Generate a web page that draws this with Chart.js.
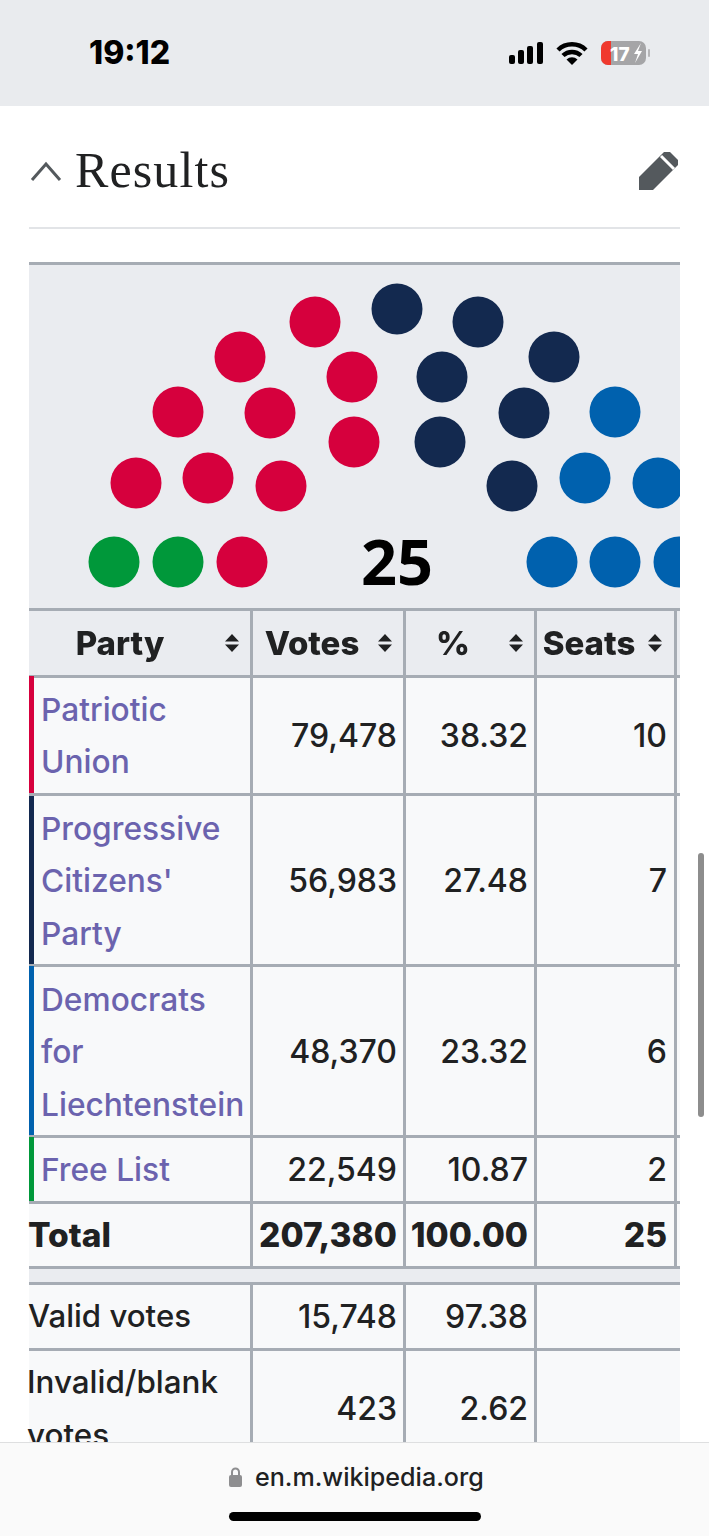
<!DOCTYPE html>
<html>
<head>
<meta charset="utf-8">
<title>Results</title>
<script src="https://cdn.jsdelivr.net/npm/chart.js@4"></script>
<style>
  html, body { margin: 0; padding: 0; background: #fff; }
  body { position: relative; width: 709px; height: 1536px; overflow: hidden; font-family: Inter, sans-serif; color: #202122; }
  .t { position: absolute; white-space: nowrap; transform: translateY(-50%); line-height: 1; }
  .line { position: absolute; background: #a6acb4; }
  .box { position: absolute; }
  #seatWrap { position: absolute; left: 29px; top: 264px; width: 651px; height: 345px; background: #eaecf0; }
  #total { position: absolute; left: 0; top: 296px; width: 736px; text-align: center; transform: translateY(-50%); font: bold 63px "Open Sans", sans-serif; color: #000; line-height: 1; }
  #bottomBar { position: absolute; left: 0; top: 1442px; width: 709px; height: 94px; background: #fafafa; border-top: 1px solid #dedfe0; box-sizing: border-box; z-index: 5; }
</style>
</head>
<body>
<div class="box" style="left:0;top:0;width:709px;height:106px;background:#e9ebee"></div>

<div id="seatWrap">
  <canvas id="seatChart" width="651" height="345"></canvas>
  <div id="total"></div>
</div>
<div id="page"></div>

<svg class="box" style="left:0;top:0;z-index:6" width="709" height="230" viewBox="0 0 709 230">
  <!-- signal -->
  <rect x="509" y="55" width="6" height="9" rx="2" fill="#000"/>
  <rect x="518" y="50" width="6" height="14" rx="2" fill="#000"/>
  <rect x="527" y="46" width="6" height="18" rx="2" fill="#000"/>
  <rect x="537" y="42" width="6" height="22" rx="2" fill="#000"/>
  <!-- wifi -->
  <path d="M558 50 A20 20 0 0 1 586 50" fill="none" stroke="#000" stroke-width="4.5"/>
  <path d="M563 55.5 A13 13 0 0 1 581 55.5" fill="none" stroke="#000" stroke-width="4.5"/>
  <path d="M566.5 59.5 L572 65 L577.5 59.5 A8 8 0 0 0 566.5 59.5Z" fill="#000"/>
  <!-- battery -->
  <rect x="601" y="41" width="45" height="24" rx="7" fill="#a5a5a7"/>
  <path d="M608 41 H611 V65 H608 A7 7 0 0 1 601 58 V48 A7 7 0 0 1 608 41Z" fill="#f0392e"/>
  <rect x="648" y="49" width="2" height="8" rx="1" fill="#b5b5b7"/>
  <path d="M641 43 L634 54 H638 L635 63 L642 51 H638Z" fill="#fff"/>
  <!-- chevron -->
  <path d="M32 180 L46 164 L60 180" fill="none" stroke="#54595d" stroke-width="3"/>
  <!-- pencil -->
  <path d="M639 190 V177 L664 152 L670 152 L678 160 V165 L653 190Z" fill="#54595d"/>
  <path d="M661 156 L674 169" stroke="#fff" stroke-width="3"/>
  <rect x="29" y="227" width="651" height="2" fill="#e2e4e7"/>
</svg>

<div id="bottomBar"></div>
<svg class="box" style="left:0;top:1442px;z-index:6" width="709" height="94" viewBox="0 0 709 94">
  <rect x="229" y="33" width="13" height="12" rx="2" fill="#8e8e90"/>
  <path d="M232 34 V30 A3.5 3.5 0 0 1 239 30 V34" fill="none" stroke="#8e8e90" stroke-width="2"/>
  <rect x="229" y="70" width="252" height="9" rx="4.5" fill="#000"/>
</svg>
<div class="box" style="left:698px;top:853px;width:6px;height:264px;border-radius:3px;background:#8d8d8d;z-index:4"></div>

<script>
// ===== Chart data =====
const parties = ["Patriotic Union", "Progressive Citizens' Party", "Democrats for Liechtenstein", "Free List"];
const partyLines = [["Patriotic", "Union"], ["Progressive", "Citizens'", "Party"], ["Democrats", "for", "Liechtenstein"], ["Free List"]];
const partyVotes = ["79,478", "56,983", "48,370", "22,549"];
const partyShare = ["38.32", "27.48", "23.32", "10.87"];
const partySeats = ["10", "7", "6", "2"];
const partyColors = ["#d6003d", "#13294f", "#0061ae", "#00983a"];
const totalRow = ["Total", "207,380", "100.00", "25"];
const validRow = ["Valid votes", "15,748", "97.38"];
const invalidRow = [["Invalid/blank", "votes"], "423", "2.62"];
const headers = ["Party", "Votes", "%", "Seats"];
const totalSeats = "25";

// seat positions, one x list and one y list per party
const unionX = [-82, -157, -219, -261, -45, -127, -189, -43, -116, -155];
const unionY = [240, 205, 150, 79, 185, 149, 84, 120, 76, 0];
const citizensX = [0, 81, 157, 45, 127, 43, 115];
const citizensY = [253, 240, 205, 185, 149, 120, 76];
const democratsX = [218, 188, 261, 155, 218, 282];
const democratsY = [150, 84, 79, 0, 0, 0];
const freeListX = [-283, -219];
const freeListY = [0, 0];

function seatPoints(xs, ys) {
  return xs.map((x, i) => ({ x: x, y: ys[i] }));
}

// ===== Seat diagram (scatter chart) =====
const ctx = document.getElementById("seatChart");
new Chart(ctx, {
  type: "scatter",
  data: {
    datasets: [
      { label: parties[0], data: seatPoints(unionX, unionY), backgroundColor: partyColors[0] },
      { label: parties[1], data: seatPoints(citizensX, citizensY), backgroundColor: partyColors[1] },
      { label: parties[2], data: seatPoints(democratsX, democratsY), backgroundColor: partyColors[2] },
      { label: parties[3], data: seatPoints(freeListX, freeListY), backgroundColor: partyColors[3] },
    ],
  },
  options: {
    responsive: false,
    animation: false,
    layout: { padding: 0, autoPadding: false },
    elements: { point: { radius: 25.5, borderWidth: 0, hoverRadius: 25.5 } },
    plugins: { legend: { display: false }, tooltip: { enabled: false } },
    scales: {
      x: { display: false, min: -368, max: 283 },
      y: { display: false, min: -47, max: 298 },
    },
  },
});
document.getElementById("total").textContent = totalSeats;

// ===== Table =====
const page = document.getElementById("page");

function text(x, y, str, size, opts = {}) {
  const el = document.createElement("div");
  el.className = "t";
  el.textContent = str;
  el.style.fontSize = size + "px";
  el.style.top = y + "px";
  if (opts.right) el.style.right = (709 - x) + "px";
  else if (opts.center) { el.style.left = x + "px"; el.style.transform = "translate(-50%,-50%)"; }
  else el.style.left = x + "px";
  if (opts.weight) el.style.fontWeight = opts.weight;
  if (opts.color) el.style.color = opts.color;
  if (opts.font) el.style.fontFamily = opts.font;
  if (opts.spacing) el.style.letterSpacing = opts.spacing;
  if (opts.z) el.style.zIndex = opts.z;
  page.appendChild(el);
}

function box(x, y, w, h, color, cls) {
  const el = document.createElement("div");
  el.className = cls || "box";
  el.style.cssText = `left:${x}px;top:${y}px;width:${w}px;height:${h}px;background:${color}`;
  page.appendChild(el);
}

// backgrounds
box(29, 609, 651, 67, "#eaecf0");
box(29, 676, 651, 591, "#f8f9fa");
box(29, 1267, 651, 16, "#eaecf0");
box(29, 1283, 651, 160, "#f8f9fa");

// status bar + title
text(89, 53, "19:12", 32, { weight: 800, color: "#000" });
text(75, 170, "Results", 50, { font: "'Liberation Serif', serif", color: "#202122", spacing: "1.1px" });
text(610, 54, "17", 19, { weight: 800, color: "#fff", z: 7 });
text(255, 1478, "en.m.wikipedia.org", 25.1, { weight: 500, color: "#202122", z: 7 });

// grid lines
const rowLines = [609, 676, 794, 965, 1136, 1202, 1267, 1283, 1349];
const colLines = [251, 404, 535];
rowLines.forEach(y => box(29, y - 1.5, 651, 3, "#a6acb4", "line"));
box(29, 262, 651, 3, "#a6acb4", "line");
colLines.forEach(x => {
  box(x - 1, 609, 3, 658, "#a6acb4", "line");
  box(x - 1, 1283, 3, 160, "#a6acb4", "line");
});
box(674, 609, 3, 658, "#a6acb4", "line");

// party colour stripes
const stripeTops = [676, 796, 966, 1137];
const stripeEnds = [793, 964, 1135, 1201];
partyColors.forEach((c, i) => box(29, stripeTops[i], 5, stripeEnds[i] - stripeTops[i], c));

// header
const headX = [120, 312, 453, 589];
const sortX = [232, 385, 516, 655];
headers.forEach((h, i) => {
  text(headX[i], 643, h, 33, { center: true, weight: 800 });
  const s = document.createElementNS("http://www.w3.org/2000/svg", "svg");
  s.setAttribute("width", 14);
  s.setAttribute("height", 18);
  s.style.cssText = `position:absolute;left:${sortX[i] - 7}px;top:634px`;
  s.innerHTML = '<path d="M7 0 L14 7.5 H0Z M0 10.5 H14 L7 18Z" fill="#202122"/>';
  page.appendChild(s);
});

// party rows
const LINK = "#6b63ae";
const rowCenter = [736, 881, 1052, 1170];
const LINE_H = 52.5;
const colRight = [397, 528, 667];
const BODY = 32;
partyLines.forEach((lines, i) => {
  const first = rowCenter[i] - (lines.length - 1) * LINE_H / 2;
  lines.forEach((l, j) => text(41, first + j * LINE_H, l, 31.7, { color: LINK, weight: 500 }));
  text(colRight[0], rowCenter[i], partyVotes[i], BODY, { right: true, weight: 500 });
  text(colRight[1], rowCenter[i], partyShare[i], BODY, { right: true, weight: 500 });
  text(colRight[2], rowCenter[i], partySeats[i], BODY, { right: true, weight: 500 });
});

// total row
text(28, 1236, totalRow[0], 33.5, { weight: 800 });
text(colRight[0], 1236, totalRow[1], 33.5, { right: true, weight: 800 });
text(colRight[1], 1236, totalRow[2], 33.5, { right: true, weight: 800 });
text(colRight[2], 1236, totalRow[3], 33.5, { right: true, weight: 800 });

// valid / invalid rows
text(28, 1317, validRow[0], 31.2, { weight: 500 });
text(colRight[0], 1317, validRow[1], BODY, { right: true, weight: 500 });
text(colRight[1], 1317, validRow[2], BODY, { right: true, weight: 500 });
text(27, 1383, invalidRow[0][0], 31.4, { weight: 500 });
text(27, 1436, invalidRow[0][1], 31.4, { weight: 500 });
text(colRight[0], 1409, invalidRow[1], BODY, { right: true, weight: 500 });
text(colRight[1], 1409, invalidRow[2], BODY, { right: true, weight: 500 });
</script>
</body>
</html>
